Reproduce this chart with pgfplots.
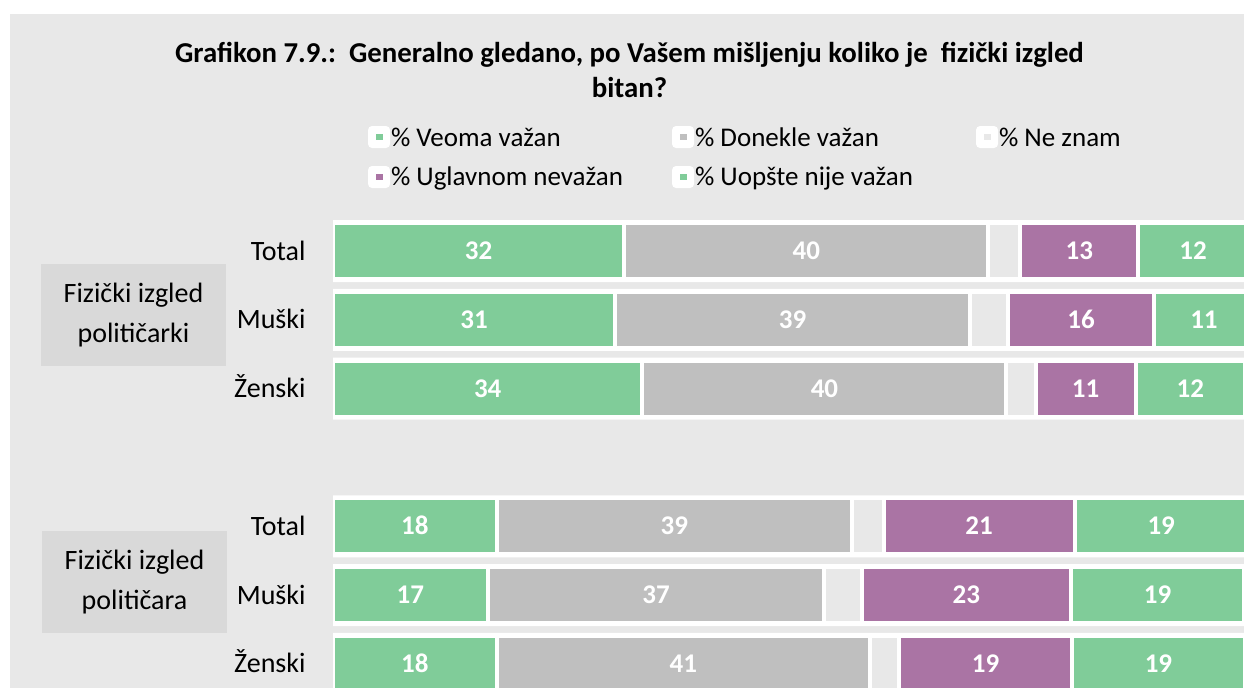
\documentclass[border=0pt]{standalone}
\usepackage{fontspec}
\setmainfont{Carlito}
\usepackage{pgfplots}
\pgfplotsset{compat=1.18}
\definecolor{bg}{HTML}{E8E8E8}
\definecolor{cgreen}{HTML}{80CC99}
\definecolor{cgray}{HTML}{BFBFBF}
\definecolor{cne}{HTML}{E8E8E8}
\definecolor{cpurple}{HTML}{AA74A4}
\definecolor{boxgray}{HTML}{D9D9D9}
\pgfplotsset{
  mybase/.style={at={(166.5pt,-108.3pt)}, anchor=north west, scale only axis,
    width=500.55pt, height=240.9pt, xmin=0, xmax=110, ymin=-0.5, ymax=6.5, y dir=reverse},
  lbl/.style={nodes near coords={\pgfmathtruncatemacro\lab{\rawx}\lab},
    visualization depends on={rawx \as \rawx},
    every node near coord/.style={font=\fontsize{13.5}{15}\selectfont\bfseries, text=white,
      anchor=center, inner sep=0pt, text height=8.5pt, text depth=0pt}}
}
\begin{document}
\begin{tikzpicture}
\useasboundingbox (0,0) rectangle (622pt,-344pt);
\clip (0,0) rectangle (622pt,-344pt);
\fill[bg] (5pt,-7pt) rectangle (622pt,-344pt);
\node[align=center, font=\fontsize{14.4}{17.5}\selectfont\bfseries] at (314.75pt,-34.75pt)
  {Grafikon 7.9.:\ \ Generalno gledano, po Vašem mišljenju koliko je\ \ fizički izgled\\bitan?};

\begin{axis}[mybase, hide axis, xbar, bar width=31pt]
\addplot[fill=white, draw=none] coordinates {(120,0) (120,1) (120,2) (120,4) (120,5) (120,6)};
\end{axis}

\begin{axis}[mybase, xbar stacked, bar width=28pt,
  axis line style={draw=none}, xtick=\empty, tick style={draw=none}, major tick length=0pt,
  ytick={0,1,2,4,5,6}, yticklabels={Total, Muški, Ženski, Total, Muški, Ženski},
  yticklabel style={font=\fontsize{14}{16}\selectfont, inner sep=0pt, xshift=-13.5pt, text height=9pt, text depth=0pt},
  every axis plot/.append style={draw=white, line width=2pt},
  legend columns=3,
  legend style={draw=none, fill=none, inner sep=0pt, outer sep=0pt, at={(0.035,1.1237)}, anchor=west,
    font=\fontsize{13.5}{15}\selectfont, column sep=0pt, row sep=9pt,
    nodes={inner sep=0pt, text height=9pt, text depth=0pt}},
  legend image code/.code={\fill[white, rounded corners=1.2pt] (0pt,-4.5pt) rectangle (9pt,4.5pt);
     \fill[#1] (1.75pt,-2.5pt) rectangle (7.25pt,2.5pt);},
]
\addplot[fill=cgreen, lbl] coordinates {(32,0) (31,1) (34,2) (18,4) (17,5) (18,6)};
\addlegendentry{\makebox[141pt][l]{\hspace{0.5pt}\% Veoma važan}}
\addplot[fill=cgray, lbl] coordinates {(40,0) (39,1) (40,2) (39,4) (37,5) (41,6)};
\addlegendentry{\makebox[141pt][l]{\hspace{0.5pt}\% Donekle važan}}
\addplot[fill=cne] coordinates {(3.5,0) (4.2,1) (3.2,2) (3.5,4) (4.1,5) (3.2,6)};
\addlegendentry{\makebox[141pt][l]{\hspace{0.5pt}\% Ne znam}}
\addplot[fill=cpurple, lbl] coordinates {(13,0) (16,1) (11,2) (21,4) (23,5) (19,6)};
\addlegendentry{\makebox[141pt][l]{\hspace{0.5pt}\% Uglavnom nevažan}}
\addplot[fill=cgreen, lbl] coordinates {(12,0) (11,1) (12,2) (19,4) (19,5) (19,6)};
\addlegendentry{\makebox[141pt][l]{\hspace{0.5pt}\% Uopšte nije važan}}
\end{axis}

\node[fill=boxgray, minimum width=92.5pt, minimum height=51pt, align=center, inner sep=0pt,
  font=\fontsize{14}{20}\selectfont] at (66.75pt,-157.5pt) {Fizički izgled\\političarki};
\node[fill=boxgray, minimum width=92.5pt, minimum height=51pt, align=center, inner sep=0pt,
  font=\fontsize{14}{20}\selectfont] at (67.25pt,-291pt) {Fizički izgled\\političara};
\end{tikzpicture}
\end{document}
